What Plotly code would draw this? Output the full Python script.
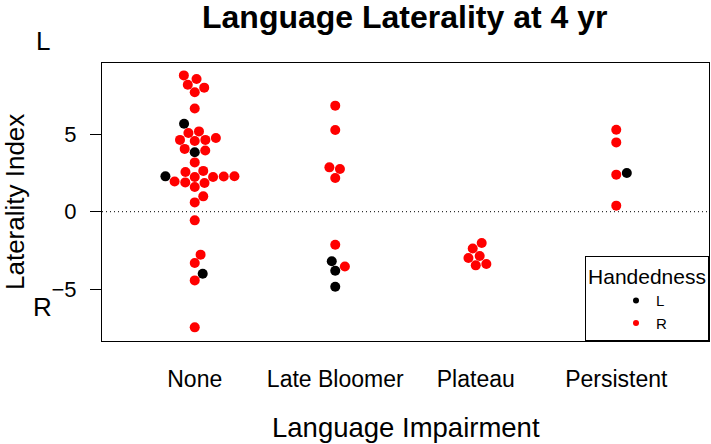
import math
import plotly.graph_objects as go

# ---- data ----
groups = ["None", "Late Bloomer", "Plateau", "Persistent"]

none_vals = [8.79, 8.56, 8.19, 8.00, 7.70, 6.66, 5.67, 5.18, 5.08, 4.75, 4.63, 4.56, 4.63,
             4.05, 3.83, 3.95, 3.18, 2.63, 2.56, 2.28, 2.24, 2.24, 2.27, 2.29, 1.95, 1.89,
             1.85, 1.59, 0.99, 0.60, -0.56, -2.77, -3.31, -4.00, -4.43, -7.46]
none_hand = ["R", "R", "R", "R", "R", "R", "L", "R", "R", "R", "R", "R", "R",
             "R", "L", "R", "R", "R", "R", "L", "R", "R", "R", "R", "R", "R",
             "R", "R", "R", "R", "R", "R", "R", "L", "R", "R"]

late_vals = [6.84, 5.27, 2.86, 2.75, 2.17, -2.13, -3.20, -3.53, -3.81, -4.84]
late_hand = ["R", "R", "R", "R", "R", "R", "L", "R", "L", "L"]

plateau_vals = [-2.02, -2.37, -2.86, -2.99, -3.37, -3.46]
plateau_hand = ["R", "R", "R", "R", "R", "R"]

persist_vals = [5.29, 4.47, 2.50, 2.39, 0.39]
persist_hand = ["R", "R", "L", "R", "R"]

hand_levels = ["L", "R"]
hand_colors = {"L": "black", "R": "red"}

# ---- layout constants ----
W, H = 711, 444
ML, MR, MT, MB = 102, 2, 63, 103
XR = [0.34, 4.66]
YR = [-8.34, 9.59]
DOT_V, DOT_H = 10.0, 10.7  # beeswarm spacing in px (value axis / group axis)
FONT = "Liberation Sans, Arial, Helvetica, sans-serif"

plot_w = W - ML - MR
plot_h = H - MT - MB
px_per_x = plot_w / (XR[1] - XR[0])
px_per_y = plot_h / (YR[1] - YR[0])


def swarm(vals, dsize, gsize):
    """beeswarm 'swarm' method (priority ascending, both sides)."""
    n = len(vals)
    order = sorted(range(n), key=lambda i: vals[i])
    xs = [v / dsize for v in vals]
    placed = []
    offs = [0.0] * n
    for i in order:
        xi = xs[i]
        pre = [(px, py) for px, py in placed if abs(xi - px) < 1]
        if pre:
            cands = [0.0]
            cands += [py + math.sqrt(1 - (xi - px) ** 2) for px, py in pre]
            cands += [py - math.sqrt(1 - (xi - px) ** 2) for px, py in pre]
            good = [c for c in cands
                    if not any((xi - px) ** 2 + (c - py) ** 2 < 0.999 for px, py in pre)]
            offs[i] = min(good, key=abs)
        placed.append((xi, offs[i]))
    return [o * gsize for o in offs]


dsize = DOT_V / px_per_y
gsize = DOT_H / px_per_x

pts = {h: {"x": [], "y": []} for h in hand_levels}
for gi, (vals, hands) in enumerate([(none_vals, none_hand), (late_vals, late_hand),
                                    (plateau_vals, plateau_hand), (persist_vals, persist_hand)]):
    offs = swarm(vals, dsize, gsize)
    for v, h, o in zip(vals, hands, offs):
        pts[h]["x"].append(gi + 1 + o)
        pts[h]["y"].append(v)

fig = go.Figure()
for h in hand_levels:
    fig.add_trace(go.Scatter(x=pts[h]["x"], y=pts[h]["y"], mode="markers",
                             marker=dict(color=hand_colors[h], size=10, line=dict(width=0)),
                             showlegend=False, hoverinfo="y"))
# legend entries (small symbols like the reference key)
for h in hand_levels:
    fig.add_trace(go.Scatter(x=[None], y=[None], mode="markers", name=h,
                             marker=dict(color=hand_colors[h], size=6)))


def pxx(p):
    return (p - ML) / plot_w


def pxy(p):
    return (H - MB - p) / plot_h


fig.add_shape(type="line", xref="paper", x0=0, x1=1, yref="y", y0=0, y1=0,
              line=dict(color="black", width=1, dash="1px,3px"))

ann = [
    dict(text="<b>Language Laterality at 4 yr</b>", x=pxx(404), y=pxy(17), font=dict(size=32)),
    dict(text="Language Impairment", x=pxx(406), y=pxy(427), font=dict(size=27.5)),
    dict(text="Laterality Index", x=pxx(15), y=pxy(202), font=dict(size=26), textangle=-90),
    dict(text="L", x=pxx(43), y=pxy(41), font=dict(size=26)),
    dict(text="R", x=pxx(42), y=pxy(307), font=dict(size=26)),
]
for a in ann:
    a.update(xref="paper", yref="paper", xanchor="center", yanchor="middle", showarrow=False)
    a["font"].update(family=FONT, color="black")
    fig.add_annotation(**a)

fig.update_layout(
    width=W, height=H,
    margin=dict(l=ML, r=MR, t=MT, b=MB, autoexpand=False),
    paper_bgcolor="white", plot_bgcolor="white",
    font=dict(family=FONT, color="black"),
    xaxis=dict(range=XR, tickmode="array", tickvals=[1, 2, 3, 4], ticktext=groups,
               showgrid=False, zeroline=False, showline=True, mirror=True,
               linecolor="black", linewidth=1, ticks="", ticklabelstandoff=17,
               tickfont=dict(size=23, family=FONT, color="black")),
    yaxis=dict(range=YR, tickmode="array", tickvals=[-5, 0, 5],
               showgrid=False, zeroline=False, showline=True, mirror=True,
               linecolor="black", linewidth=1, ticks="outside", ticklen=11,
               tickcolor="black", ticklabelstandoff=9,
               tickfont=dict(size=22, family=FONT, color="black")),
    legend=dict(x=1, xanchor="right", y=0, yanchor="bottom", bgcolor="white",
                bordercolor="black", borderwidth=1, indentation=30,
                title=dict(text="Handedness", side="top center",
                           font=dict(size=21, family=FONT, color="black")),
                font=dict(size=15, family=FONT, color="black"),
                tracegroupgap=0),
    showlegend=True,
)

fig.write_html("out.html", config={"displayModeBar": False},
               post_script="document.body.style.margin='0px';document.body.style.padding='0px';")
